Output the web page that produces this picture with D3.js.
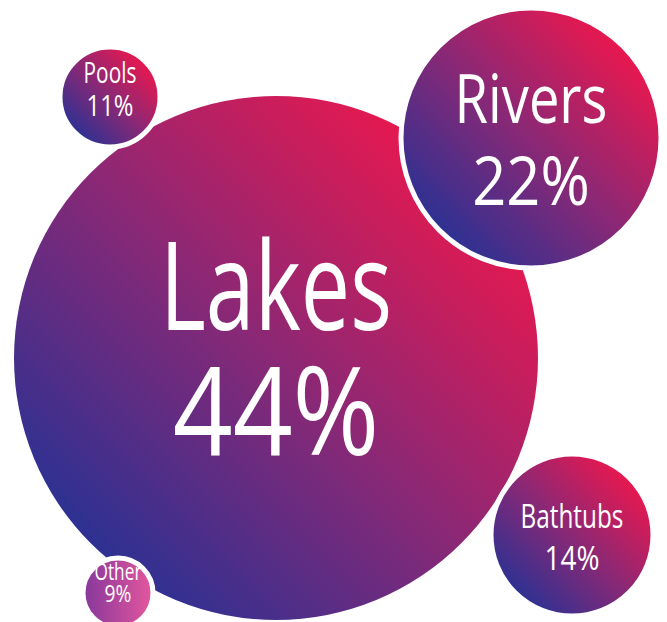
<!DOCTYPE html>
<html>
<head>
<meta charset="utf-8">
<script src="https://cdn.jsdelivr.net/npm/d3@7"></script>
<style>
  html, body { margin: 0; padding: 0; background: #ffffff; }
  svg { display: block; }
</style>
</head>
<body>
<svg id="chart" width="667" height="622"></svg>
<script>
// ---- data ----
const categories = ["Lakes", "Pools", "Rivers", "Bathtubs", "Other"];
const values = [44, 11, 22, 14, 9];

// ---- layout (positions / styles, not data) ----
const centers = [[276, 358], [110, 97], [531, 138], [572, 535], [118, 593]];
const fontSizes = [122, 29, 67, 32, 24];
const line1Y = [-28, -14, -15, -7, -13];   // baseline offsets from centre
const line2Y = [97, 19, 67, 35, 9];
const nameSqueeze = [0.72, 0.72, 0.81, 0.76, 0.72];
const numSqueeze = [0.86, 0.82, 0.89, 0.87, 0.8];
const gradientIds = ["diag", "diag", "diag", "diag", "horiz"];

const svg = d3.select("#chart");

// radius scale (hand-tuned piecewise linear, as in the infographic)
const rScale = d3.scaleLinear()
  .domain([9, 11, 14, 22, 44])
  .range([35, 50, 81, 130, 262]);

const defs = svg.append("defs");
const diag = defs.append("linearGradient")
  .attr("id", "diag")
  .attr("x1", 0.15).attr("y1", 0.85).attr("x2", 0.85).attr("y2", 0.15);
diag.append("stop").attr("offset", 0).attr("stop-color", "#2e3192");
diag.append("stop").attr("offset", 0.5).attr("stop-color", "#8b2875");
diag.append("stop").attr("offset", 1).attr("stop-color", "#e8184f");

const horiz = defs.append("linearGradient")
  .attr("id", "horiz")
  .attr("x1", 0).attr("y1", 0).attr("x2", 1).attr("y2", 0);
horiz.append("stop").attr("offset", 0).attr("stop-color", "#85379b");
horiz.append("stop").attr("offset", 1).attr("stop-color", "#e5579d");

const data = categories.map((c, i) => ({
  name: c, value: values[i],
  cx: centers[i][0], cy: centers[i][1],
  fs: fontSizes[i], l1: line1Y[i], l2: line2Y[i],
  s1: nameSqueeze[i], s2: numSqueeze[i], grad: gradientIds[i], idx: i
}));

const g = svg.selectAll("g.bubble")
  .data(data)
  .join("g")
  .attr("class", "bubble")
  .attr("transform", d => `translate(${d.cx},${d.cy})`);

g.append("circle")
  .attr("r", d => rScale(d.value))
  .attr("fill", d => `url(#${d.grad})`)
  .attr("stroke", "#ffffff")
  .attr("stroke-width", d => d.idx === 0 ? 0 : 5);

g.append("text")
  .attr("text-anchor", "middle")
  .attr("transform", d => `translate(0,${d.l1}) scale(${d.s1},1)`)
  .attr("font-family", "'Open Sans', 'Noto Sans', sans-serif")
  .attr("font-size", d => d.fs)
  .attr("fill", "#ffffff")
  .text(d => d.name);

g.append("text")
  .attr("text-anchor", "middle")
  .attr("transform", d => `translate(0,${d.l2}) scale(${d.s2},1)`)
  .attr("font-family", "'Open Sans', 'Noto Sans', sans-serif")
  .attr("font-size", d => d.fs)
  .attr("fill", "#ffffff")
  .text(d => d.value + "%");
</script>
</body>
</html>
